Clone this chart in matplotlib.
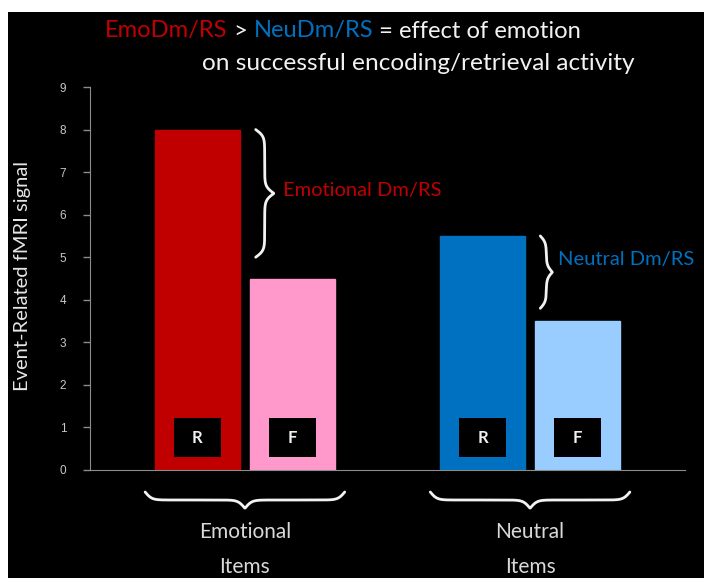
import numpy as np
import matplotlib
matplotlib.use("Agg")
import matplotlib.pyplot as plt
from matplotlib.patches import Rectangle

# ---- data ----
conditions = ["Emotional R", "Emotional F", "Neutral R", "Neutral F"]
letters = ["R", "F", "R", "F"]
values = [8.0, 4.5, 5.5, 3.5]
colors = ["#c00000", "#ff99cc", "#0070c0", "#99ccff"]
groups = ["Emotional\nItems", "Neutral\nItems"]
yticks = [0, 1, 2, 3, 4, 5, 6, 7, 8, 9]
positions = [0, 1, 3, 4]

W, H = 704, 578
fig = plt.figure(figsize=(W / 100, H / 100), dpi=100, facecolor="white")
bg = fig.add_axes([8 / W, 0, (W - 8) / W, (H - 12) / H])
bg.set_facecolor("black")
bg.set_xticks([]); bg.set_yticks([])
for s in bg.spines.values():
    s.set_visible(False)

ax = fig.add_axes([90 / W, (H - 470) / H, 595 / W, 383 / H])
ax.set_facecolor("none")
ax.bar(positions, values, width=0.9, color=colors, edgecolor=colors, linewidth=1, zorder=2)
ax.set_xlim(-1.13, 5.13)
ax.set_ylim(0, 9)
ax.set_yticks(yticks)
ax.set_yticklabels([str(t) for t in yticks], family="Liberation Sans", fontsize=8.5, color="#c8c8c8")
ax.set_xticks([])
ax.tick_params(axis="y", direction="out", length=5, width=1, color="#8c8c8c", pad=12)
for side in ["top", "right"]:
    ax.spines[side].set_visible(False)
ax.spines["left"].set_color("#8c8c8c")
ax.spines["bottom"].set_color("#8c8c8c")

fig.text(23 / W, 1 - 276 / H, "Event-Related fMRI signal", family="Lato", fontsize=14.5,
         color="#e6e6e6", rotation=90, ha="center", va="center")

# R / F boxes
bw, bh = 47 / 95, 39 / (383 / 9)
for x, l in zip(positions, letters):
    ax.add_patch(Rectangle((x - bw / 2, 0.76 - bh / 2), bw, bh, facecolor="black", edgecolor="none", zorder=3))
    ax.text(x, 0.76, l, ha="center", va="center", color="#f0f0f0", fontsize=12, fontweight="bold",
            family="Lato", zorder=4)

fig.canvas.draw()
T = ax.transData


def brace_pixels(p0, p1, width, beta=0.3):
    p0 = np.asarray(p0, float); p1 = np.asarray(p1, float)
    L = np.linalg.norm(p1 - p0)
    d = (p1 - p0) / L
    n = np.array([d[1], -d[0]])
    t = np.linspace(0, L, 400)
    half = t[:200]
    h = (1 / (1 + np.exp(-beta * (half - half[0]))) + 1 / (1 + np.exp(-beta * (half - half[-1]))))
    prof = np.concatenate([h, h[::-1]])
    prof = (prof - prof.min()) / (prof.max() - prof.min()) * width
    return p0[None, :] + t[:, None] * d[None, :] + prof[:, None] * n[None, :]


def draw_brace(pts):
    dp = T.inverted().transform(pts)
    ax.plot(dp[:, 0], dp[:, 1], color="#f2f2f2", lw=2, clip_on=False, solid_capstyle="round", zorder=3)


# side braces
x_emo = T.transform((positions[1] - 0.45, 0))[0] + 6
p_top = (x_emo, T.transform((0, values[0]))[1])
p_bot = (x_emo, T.transform((0, values[1] + 0.5))[1])
draw_brace(brace_pixels(p_top, p_bot, -18))
ax.annotate("Emotional Dm/RS", xy=(x_emo, (p_top[1] + p_bot[1]) / 2), xycoords="figure pixels",
            xytext=(27, 3), textcoords="offset pixels",
            color="#c00000", family="Lato", fontsize=14.5, va="center", ha="left")

x_neu = T.transform((positions[2] + 0.45, 0))[0] + 15
p_top = (x_neu, T.transform((0, values[2]))[1])
p_bot = (x_neu, T.transform((0, values[3] + 0.3))[1])
draw_brace(brace_pixels(p_top, p_bot, -12))
ax.annotate("Neutral Dm/RS", xy=(x_neu, (p_top[1] + p_bot[1]) / 2), xycoords="figure pixels",
            xytext=(18, 13), textcoords="offset pixels",
            color="#0070c0", family="Lato", fontsize=14.5, va="center", ha="left")

# bottom braces under groups
for gi, (a, b) in enumerate([(positions[0], positions[1]), (positions[2], positions[3])]):
    c = (a + b) / 2
    left = T.transform((c - 1.05, 0))
    right = T.transform((c + 1.05, 0))
    y = left[1] - 22
    draw_brace(brace_pixels((left[0], y), (right[0], y), 16))
    name1, name2 = groups[gi].split("\n")
    ax.annotate(name1, xy=(c, 0), xycoords="data", xytext=(0, -62), textcoords="offset pixels",
                ha="center", va="center", color="#d9d9d9", family="Lato", fontsize=15)
    ax.annotate(name2, xy=(c, 0), xycoords="data", xytext=(0, -97), textcoords="offset pixels",
                ha="center", va="center", color="#d9d9d9", family="Lato", fontsize=15)

# title lines with colored segments, fitted to reference widths
renderer = fig.canvas.get_renderer()
segments = [("EmoDm/RS", "#c00000"), (" > ", "#f2f2f2"), ("NeuDm/RS", "#0070c0"),
            (" = effect of emotion", "#f2f2f2")]
full = "".join(s for s, _ in segments)
probe = fig.text(0, 0, full, family="Lato", fontsize=10)
w10 = probe.get_window_extent(renderer).width
probe.remove()
fs1 = 10 * 475 / w10
x = 105
for s, col in segments:
    t = fig.text(x / W, 1 - 31 / H, s, color=col, family="Lato", fontsize=fs1, va="center", ha="left")
    x += t.get_window_extent(renderer).width
line2 = "on successful encoding/retrieval activity"
probe = fig.text(0, 0, line2, family="Lato", fontsize=10)
w10 = probe.get_window_extent(renderer).width
probe.remove()
fig.text(202 / W, 1 - 63 / H, line2, color="#f2f2f2", family="Lato", fontsize=10 * 431 / w10,
         va="center", ha="left")

fig.savefig("out.png", dpi=100, facecolor="white")
